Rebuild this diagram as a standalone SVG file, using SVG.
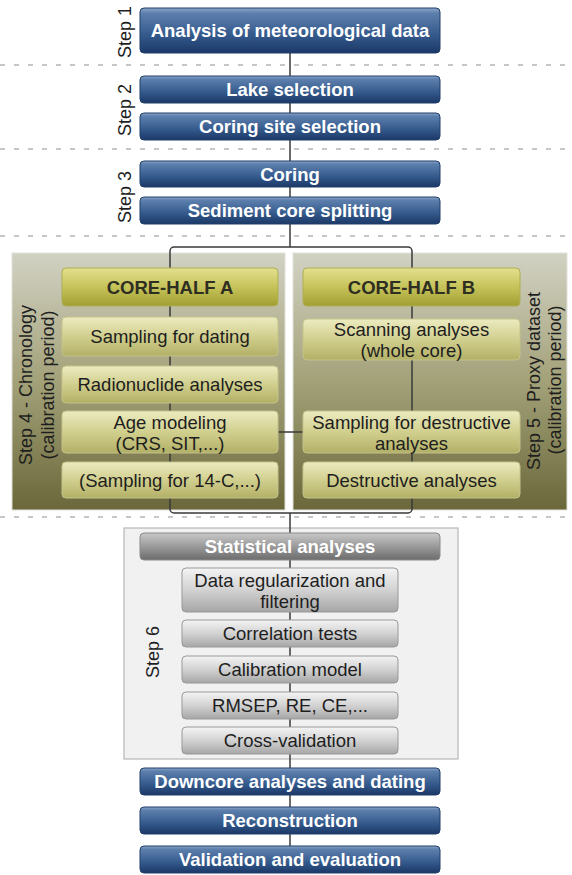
<svg xmlns="http://www.w3.org/2000/svg" width="572" height="875" viewBox="0 0 572 875">
<defs>
<linearGradient id="gBlue" x1="0" y1="0" x2="0" y2="1">
<stop offset="0" stop-color="#8aa5c8"/><stop offset="0.12" stop-color="#5d7fad"/><stop offset="0.6" stop-color="#345a8c"/><stop offset="1" stop-color="#1b3867"/>
</linearGradient>
<linearGradient id="gHead" x1="0" y1="0" x2="0" y2="1">
<stop offset="0" stop-color="#e2e08e"/><stop offset="0.5" stop-color="#c6c35a"/><stop offset="1" stop-color="#a19e33"/>
</linearGradient>
<linearGradient id="gOlive" x1="0" y1="0" x2="0" y2="1">
<stop offset="0" stop-color="#ecebc0"/><stop offset="0.5" stop-color="#d1cf8e"/><stop offset="1" stop-color="#b2b066"/>
</linearGradient>
<linearGradient id="gPanel" x1="0" y1="0" x2="0" y2="1">
<stop offset="0" stop-color="#d2d2c4"/><stop offset="0.5" stop-color="#a3a178"/><stop offset="1" stop-color="#6a683a"/>
</linearGradient>
<linearGradient id="gGreyDark" x1="0" y1="0" x2="0" y2="1">
<stop offset="0" stop-color="#c9c9c9"/><stop offset="0.5" stop-color="#9a9a9a"/><stop offset="1" stop-color="#6c6c6c"/>
</linearGradient>
<linearGradient id="gGrey" x1="0" y1="0" x2="0" y2="1">
<stop offset="0" stop-color="#f4f4f4"/><stop offset="0.5" stop-color="#d2d2d2"/><stop offset="1" stop-color="#a6a6a6"/>
</linearGradient>
</defs>
<style>
.dash{stroke:#c6c6c6;stroke-width:2;stroke-dasharray:5 9;fill:none}
.blue{fill:url(#gBlue);stroke:#223f6b;stroke-width:1}
.head{fill:url(#gHead);stroke:#b0ad55;stroke-width:1}
.olive{fill:url(#gOlive);stroke:#c4c28a;stroke-width:1}
.panel{fill:url(#gPanel);stroke:#e0e0d8;stroke-width:1}
.p6{fill:#f1f1f1;stroke:#b8b8b8;stroke-width:1.2}
.gdark{fill:url(#gGreyDark);stroke:#8a8a8a;stroke-width:1}
.grey{fill:url(#gGrey);stroke:#999;stroke-width:1}
.conn{stroke:#3a3a3a;stroke-width:1.5;fill:none}
text{font-family:"Liberation Sans",Arial,sans-serif;font-size:18.5px;text-anchor:middle}
.tw{font-weight:bold;fill:#fff}
.th{font-weight:bold;fill:#2e2e22}
.tn{fill:#1e1e1e}
.ts{fill:#1e1e1e;font-size:18px}
</style>

<g id="separators">
<line class="dash" x1="0" y1="65" x2="572" y2="65"/>
<line class="dash" x1="0" y1="149" x2="572" y2="149"/>
<line class="dash" x1="0" y1="236" x2="572" y2="236"/>
<line class="dash" x1="0" y1="517" x2="572" y2="517"/>
</g>

<g id="step-labels">
<text class="ts" transform="translate(130.5,32) rotate(-90)">Step 1</text>
<text class="ts" transform="translate(130.5,110) rotate(-90)">Step 2</text>
<text class="ts" transform="translate(130.5,197) rotate(-90)">Step 3</text>
</g>

<g id="panel-step4">
<rect class="panel" x="12" y="253" width="273" height="257"/>
<text class="ts" transform="translate(32,385) rotate(-90)">Step 4 - Chronology</text>
<text class="ts" transform="translate(54,385) rotate(-90)">(calibration period)</text>
</g>
<g id="panel-step5">
<rect class="panel" x="293" y="253" width="274" height="257"/>
<text class="ts" transform="translate(539.5,381) rotate(-90)">Step 5 - Proxy dataset</text>
<text class="ts" transform="translate(561,380) rotate(-90)">(calibration period)</text>
</g>
<g id="panel-step6">
<rect class="p6" x="124" y="528" width="334" height="231"/>
<text class="ts" transform="translate(158.5,652) rotate(-90)">Step 6</text>
</g>

<g id="connectors">
<line class="conn" x1="290" y1="53" x2="290" y2="247"/>
<rect class="conn" x="170" y="247" width="242" height="266" rx="4"/>
<line class="conn" x1="278" y1="432" x2="303" y2="432"/>
<line class="conn" x1="290" y1="513" x2="290" y2="846"/>
</g>

<g id="n-meteo"><rect class="blue" x="140" y="8" width="300" height="45" rx="4"/><text class="tw" x="290" y="37">Analysis of meteorological data</text></g>
<g id="n-lake"><rect class="blue" x="140" y="76" width="300" height="27" rx="4"/><text class="tw" x="290" y="96">Lake selection</text></g>
<g id="n-site"><rect class="blue" x="140" y="113" width="300" height="27" rx="4"/><text class="tw" x="290" y="133">Coring site selection</text></g>
<g id="n-coring"><rect class="blue" x="140" y="161" width="300" height="26" rx="4"/><text class="tw" x="290" y="180.5">Coring</text></g>
<g id="n-split"><rect class="blue" x="140" y="197" width="300" height="27" rx="4"/><text class="tw" x="290" y="217">Sediment core splitting</text></g>

<g id="n-halfA"><rect class="head" x="62" y="268" width="216" height="38" rx="4"/><text class="th" x="170" y="293.5">CORE-HALF A</text></g>
<g id="n-samp-dating"><rect class="olive" x="62" y="317" width="216" height="39" rx="4"/><text class="tn" x="170" y="343">Sampling for dating</text></g>
<g id="n-radio"><rect class="olive" x="62" y="366" width="216" height="37" rx="4"/><text class="tn" x="170" y="391">Radionuclide analyses</text></g>
<g id="n-age"><rect class="olive" x="62" y="411" width="216" height="42" rx="4"/><text class="tn" x="170" y="428.5">Age modeling</text><text class="tn" x="170" y="449.5">(CRS, SIT,...)</text></g>
<g id="n-14c"><rect class="olive" x="62" y="462" width="216" height="36" rx="4"/><text class="tn" x="170" y="486.5">(Sampling for 14-C,...)</text></g>

<g id="n-halfB"><rect class="head" x="303" y="268" width="217" height="38" rx="4"/><text class="th" x="411.5" y="293.5">CORE-HALF B</text></g>
<g id="n-scan"><rect class="olive" x="303" y="319" width="217" height="41" rx="4"/><text class="tn" x="411.5" y="335.5">Scanning analyses</text><text class="tn" x="411.5" y="356.5">(whole core)</text></g>
<g id="n-samp-destr"><rect class="olive" x="303" y="411" width="217" height="42" rx="4"/><text class="tn" x="411.5" y="428.5">Sampling for destructive</text><text class="tn" x="411.5" y="449.5">analyses</text></g>
<g id="n-destr"><rect class="olive" x="303" y="462" width="217" height="36" rx="4"/><text class="tn" x="411.5" y="486.5">Destructive analyses</text></g>

<g id="n-stat"><rect class="gdark" x="140" y="533" width="300" height="27" rx="4"/><text class="tw" x="290" y="553">Statistical analyses</text></g>
<g id="n-reg"><rect class="grey" x="182" y="568" width="216" height="44" rx="4"/><text class="tn" x="290" y="586.5">Data regularization and</text><text class="tn" x="290" y="607.5">filtering</text></g>
<g id="n-corr"><rect class="grey" x="182" y="620" width="216" height="27" rx="4"/><text class="tn" x="290" y="640">Correlation tests</text></g>
<g id="n-calib"><rect class="grey" x="182" y="656" width="216" height="27" rx="4"/><text class="tn" x="290" y="676">Calibration model</text></g>
<g id="n-rmsep"><rect class="grey" x="182" y="692" width="216" height="27" rx="4"/><text class="tn" x="290" y="712">RMSEP, RE, CE,...</text></g>
<g id="n-cross"><rect class="grey" x="182" y="727" width="216" height="27" rx="4"/><text class="tn" x="290" y="747">Cross-validation</text></g>

<g id="n-downcore"><rect class="blue" x="140" y="768" width="300" height="27" rx="4"/><text class="tw" x="290" y="788">Downcore analyses and dating</text></g>
<g id="n-recon"><rect class="blue" x="140" y="807" width="300" height="27" rx="4"/><text class="tw" x="290" y="827">Reconstruction</text></g>
<g id="n-valid"><rect class="blue" x="140" y="846" width="300" height="27" rx="4"/><text class="tw" x="290" y="866">Validation and evaluation</text></g>
</svg>
